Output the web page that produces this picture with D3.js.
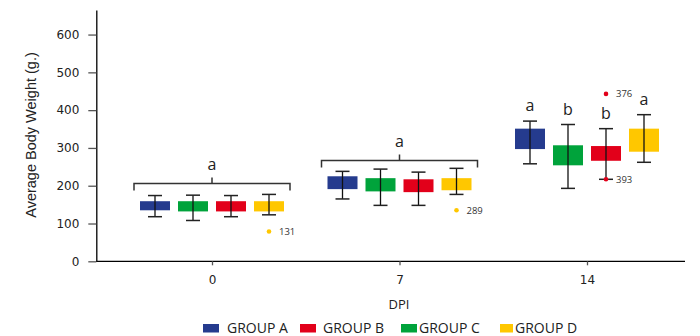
<!DOCTYPE html>
<html><head><meta charset="utf-8">
<script src="https://cdn.jsdelivr.net/npm/d3@7"></script>
<style>body{margin:0;background:#fff}</style>
</head><body>
<svg id="c" width="700" height="336"></svg>
<script>
// ---- data ----
const dpis = ["0", "7", "14"];
const plotGroups = ["GROUP A", "GROUP C", "GROUP B", "GROUP D"]; // order drawn in each DPI
const legendGroups = ["GROUP A", "GROUP B", "GROUP C", "GROUP D"];
const groupColors = {"GROUP A": "#253b8e", "GROUP B": "#e2001a", "GROUP C": "#00a33b", "GROUP D": "#ffc700"};
// [min, q1, q3, max] per group (plot order), per DPI
const statsDpi0  = [[118,135,159,174],[108,132,159,175],[118,132,159,174],[123,132,159,177]];
const statsDpi7  = [[165,191,225,238],[148,185,220,244],[148,183,217,236],[177,188,220,246]];
const statsDpi14 = [[258,297,351,371],[193,254,307,362],[217,266,305,351],[262,290,351,388]];
const outliers = [
  {dpi:"0",  group:"GROUP D", value:79,  label:"131"},
  {dpi:"7",  group:"GROUP D", value:135, label:"289"},
  {dpi:"14", group:"GROUP B", value:443, label:"376"},
  {dpi:"14", group:"GROUP B", value:217, label:"393"}
];
const bracketDpis = ["0", "7"];
const bracketValues = [206, 267];
const bracketLetters = ["a", "a"];
const letters14 = ["a", "b", "b", "a"];
const yTicks = [0, 100, 200, 300, 400, 500, 600];

const allStats = {"0": statsDpi0, "7": statsDpi7, "14": statsDpi14};

// ---- layout ----
const svg = d3.select("#c");
const y = d3.scaleLinear().domain([0, 665]).range([261.3, 10]);
const x = d3.scalePoint().domain(dpis).range([212, 587]);
const sub = d3.scalePoint().domain(plotGroups).range([-57, 57]);
const boxW = 30, capW = 14;

// y axis
const ya = svg.append("g").attr("transform", "translate(96.3,0)")
  .call(d3.axisLeft(y).tickValues(yTicks).tickSize(8).tickPadding(9).tickSizeOuter(0));
ya.select(".domain").attr("stroke", "#000").attr("stroke-width", 1.3);
ya.selectAll(".tick line").attr("stroke", "#555").attr("stroke-width", 1.3);
ya.selectAll("text").attr("font-family", "DejaVu Sans").attr("font-size", 12).attr("fill", "#222");

// x axis
svg.append("line").attr("x1", 96.3).attr("x2", 685).attr("y1", y(0)).attr("y2", y(0))
  .attr("stroke", "#000").attr("stroke-width", 1.3);
const xa = svg.append("g").attr("transform", `translate(0,${y(0)})`)
  .call(d3.axisBottom(x).tickSize(4).tickPadding(10));
xa.select(".domain").remove();
xa.selectAll(".tick line").attr("stroke", "#555").attr("stroke-width", 1.3);
xa.selectAll("text").attr("font-family", "DejaVu Sans").attr("font-size", 12).attr("fill", "#222");

// axis titles
svg.append("text").attr("transform", "translate(36,135) rotate(-90)")
  .attr("text-anchor", "middle").attr("font-family", "Liberation Sans").attr("font-size", 14.5)
  .attr("fill", "#222").text("Average Body Weight (g.)");
svg.append("text").attr("x", 399).attr("y", 309).attr("text-anchor", "middle")
  .attr("font-family", "Open Sans").attr("font-size", 13).attr("fill", "#222").text("DPI");

// boxes
const flat = [];
dpis.forEach(d => allStats[d].forEach((s, i) => flat.push({dpi: d, group: plotGroups[i], i, s})));
const g = svg.append("g");
flat.forEach(o => {
  const cx = x(o.dpi) + sub(o.group);
  g.append("rect").attr("x", cx - boxW/2).attr("width", boxW)
    .attr("y", y(o.s[2])).attr("height", y(o.s[1]) - y(o.s[2]))
    .attr("fill", groupColors[o.group]);
  g.append("line").attr("x1", cx).attr("x2", cx).attr("y1", y(o.s[3])).attr("y2", y(o.s[0]))
    .attr("stroke", "#111").attr("stroke-width", 1.3);
  [o.s[0], o.s[3]].forEach(v => g.append("line")
    .attr("x1", cx - capW/2).attr("x2", cx + capW/2).attr("y1", y(v)).attr("y2", y(v))
    .attr("stroke", "#222").attr("stroke-width", 1.5));
});

// outliers
outliers.forEach(o => {
  const cx = x(o.dpi) + sub(o.group);
  g.append("circle").attr("cx", cx).attr("cy", y(o.value)).attr("r", 2.3).attr("fill", groupColors[o.group]);
  g.append("text").attr("x", cx + 10).attr("y", y(o.value)).attr("dy", "0.35em")
    .attr("font-family", "Open Sans").attr("font-size", 9.5).attr("fill", "#333").text(o.label);
});

// brackets
bracketDpis.forEach((d, i) => {
  const cx = x(d), by = y(bracketValues[i]);
  const x0 = cx + sub(plotGroups[0]) - boxW/2 - 6, x1 = cx + sub(plotGroups[3]) + boxW/2 + 6;
  g.append("path").attr("d", `M${x0},${by+7}V${by}H${x1}V${by+7}M${cx},${by}V${by-6}`)
    .attr("fill", "none").attr("stroke", "#333").attr("stroke-width", 1.5);
  g.append("text").attr("x", cx).attr("y", by - 13).attr("text-anchor", "middle")
    .attr("font-family", "Open Sans").attr("font-size", 16).attr("fill", "#222").text(bracketLetters[i]);
});
letters14.forEach((l, i) => {
  const cx = x("14") + sub(plotGroups[i]);
  g.append("text").attr("x", cx).attr("y", y(statsDpi14[i][3]) - 10).attr("text-anchor", "middle")
    .attr("font-family", "Open Sans").attr("font-size", 16).attr("fill", "#222").text(l);
});

// legend
const legX = [203, 300, 401, 500];
const legTextX = [227, 323, 419, 515];
const swW = [16, 16, 16, 13];
legendGroups.forEach((gr, i) => {
  svg.append("rect").attr("x", legX[i]).attr("y", 324).attr("width", swW[i]).attr("height", 8.5)
    .attr("fill", groupColors[gr]);
  svg.append("text").attr("x", legTextX[i]).attr("y", 333).attr("font-family", "Open Sans")
    .attr("font-size", 14).attr("fill", "#222").text(gr);
});
</script>
</body></html>
